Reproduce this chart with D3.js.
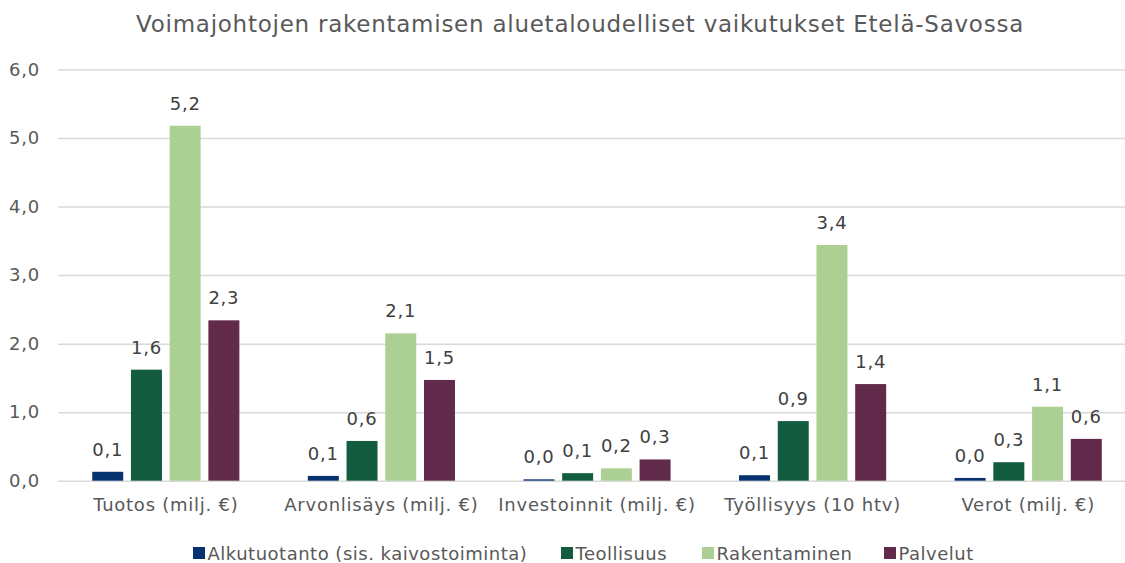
<!DOCTYPE html>
<html lang="fi">
<head>
  <meta charset="UTF-8">
  <title>Voimajohtojen rakentamisen aluetaloudelliset vaikutukset</title>
  <script src="https://cdn.jsdelivr.net/npm/d3@7"></script>
  <style>
    body, html { margin: 0; padding: 0; overflow: hidden; background: #fff; }
    text { font-family: "DejaVu Sans", Verdana, sans-serif; letter-spacing: 0.75px; }
  </style>
</head>
<body>
<script>
  // data
  const categories = ["Tuotos (milj. €)", "Arvonlisäys (milj. €)", "Investoinnit (milj. €)", "Työllisyys (10 htv)", "Verot (milj. €)"];
  const seriesNames = ["Alkutuotanto (sis. kaivostoiminta)", "Teollisuus", "Rakentaminen", "Palvelut"];
  const alkutuotanto = [0.13, 0.07, 0.02, 0.08, 0.04];
  const teollisuus = [1.62, 0.58, 0.11, 0.87, 0.27];
  const rakentaminen = [5.18, 2.15, 0.18, 3.44, 1.08];
  const palvelut = [2.34, 1.47, 0.31, 1.41, 0.61];
  const yTicks = [0, 1, 2, 3, 4, 5, 6];
  const colors = ["#06326f", "#135c40", "#acd094", "#612a4a"];

  const seriesValues = [alkutuotanto, teollisuus, rakentaminen, palvelut];

  const W = 1125, H = 563;
  const plot = { left: 58, right: 1136, top: 69.5, bottom: 480.7 };

  const fi = d3.formatLocale({ decimal: ",", thousands: " ", grouping: [3], currency: ["", " €"] });
  const fmt = fi.format(".1f");

  const svg = d3.select("body").append("svg")
    .attr("width", W)
    .attr("height", H);

  const x0 = d3.scaleBand()
    .domain(categories)
    .range([plot.left, plot.right])
    .padding(0);

  const x1 = d3.scaleBand()
    .domain(seriesNames)
    .range([0, x0.bandwidth()])
    .paddingInner(0.2)
    .paddingOuter(0.884);

  const y = d3.scaleLinear()
    .domain([0, 6])
    .range([plot.bottom, plot.top]);

  // title
  svg.append("text")
    .attr("x", 580)
    .attr("y", 32)
    .attr("text-anchor", "middle")
    .attr("font-size", "23px")
    .attr("fill", "#595959")
    .text("Voimajohtojen rakentamisen aluetaloudelliset vaikutukset Etelä-Savossa");

  // gridlines + y labels
  const yAxis = d3.axisLeft(y)
    .tickValues(yTicks)
    .tickSize(-(plot.right - plot.left))
    .tickPadding(18)
    .tickFormat(fmt);

  const gy = svg.append("g")
    .attr("transform", `translate(${plot.left},0)`)
    .call(yAxis);
  gy.select(".domain").remove();
  gy.selectAll(".tick line")
    .attr("stroke", "#d9d9d9")
    .attr("stroke-width", 1.5);
  gy.selectAll(".tick text")
    .attr("font-size", "18px")
    .attr("fill", "#595959")
    .attr("font-family", "DejaVu Sans, Verdana, sans-serif");

  // x axis labels
  const xAxis = d3.axisBottom(x0).tickSize(0).tickPadding(17.5);
  const gx = svg.append("g")
    .attr("transform", `translate(0,${plot.bottom})`)
    .call(xAxis);
  gx.select(".domain").remove();
  gx.selectAll(".tick text")
    .attr("font-size", "18px")
    .attr("fill", "#595959")
    .attr("font-family", "DejaVu Sans, Verdana, sans-serif");

  // bars
  const groups = svg.append("g")
    .selectAll("g")
    .data(categories)
    .join("g")
    .attr("transform", d => `translate(${x0(d)},0)`);

  const cells = groups.selectAll("g")
    .data((c, i) => seriesNames.map((s, j) => ({ series: s, j: j, value: seriesValues[j][i] })))
    .join("g");

  cells.append("rect")
    .attr("x", d => x1(d.series))
    .attr("y", d => y(d.value))
    .attr("width", x1.bandwidth())
    .attr("height", d => y(0) - y(d.value))
    .attr("fill", d => colors[d.j]);

  cells.append("text")
    .attr("x", d => x1(d.series) + x1.bandwidth() / 2)
    .attr("y", d => y(d.value) - 16)
    .attr("text-anchor", "middle")
    .attr("font-size", "18px")
    .attr("fill", "#404040")
    .text(d => fmt(d.value));

  // legend
  const legendX = [193, 561, 702, 884];
  const legend = svg.append("g")
    .selectAll("g")
    .data(seriesNames)
    .join("g")
    .attr("transform", (d, i) => `translate(${legendX[i]},553)`);

  legend.append("rect")
    .attr("x", 0)
    .attr("y", -6)
    .attr("width", 12)
    .attr("height", 12)
    .attr("fill", (d, i) => colors[i]);

  legend.append("text")
    .attr("x", 14.5)
    .attr("y", 6.5)
    .attr("font-size", "18px")
    .attr("fill", "#595959")
    .style("letter-spacing", "0.5px")
    .text(d => d);
</script>
</body>
</html>
